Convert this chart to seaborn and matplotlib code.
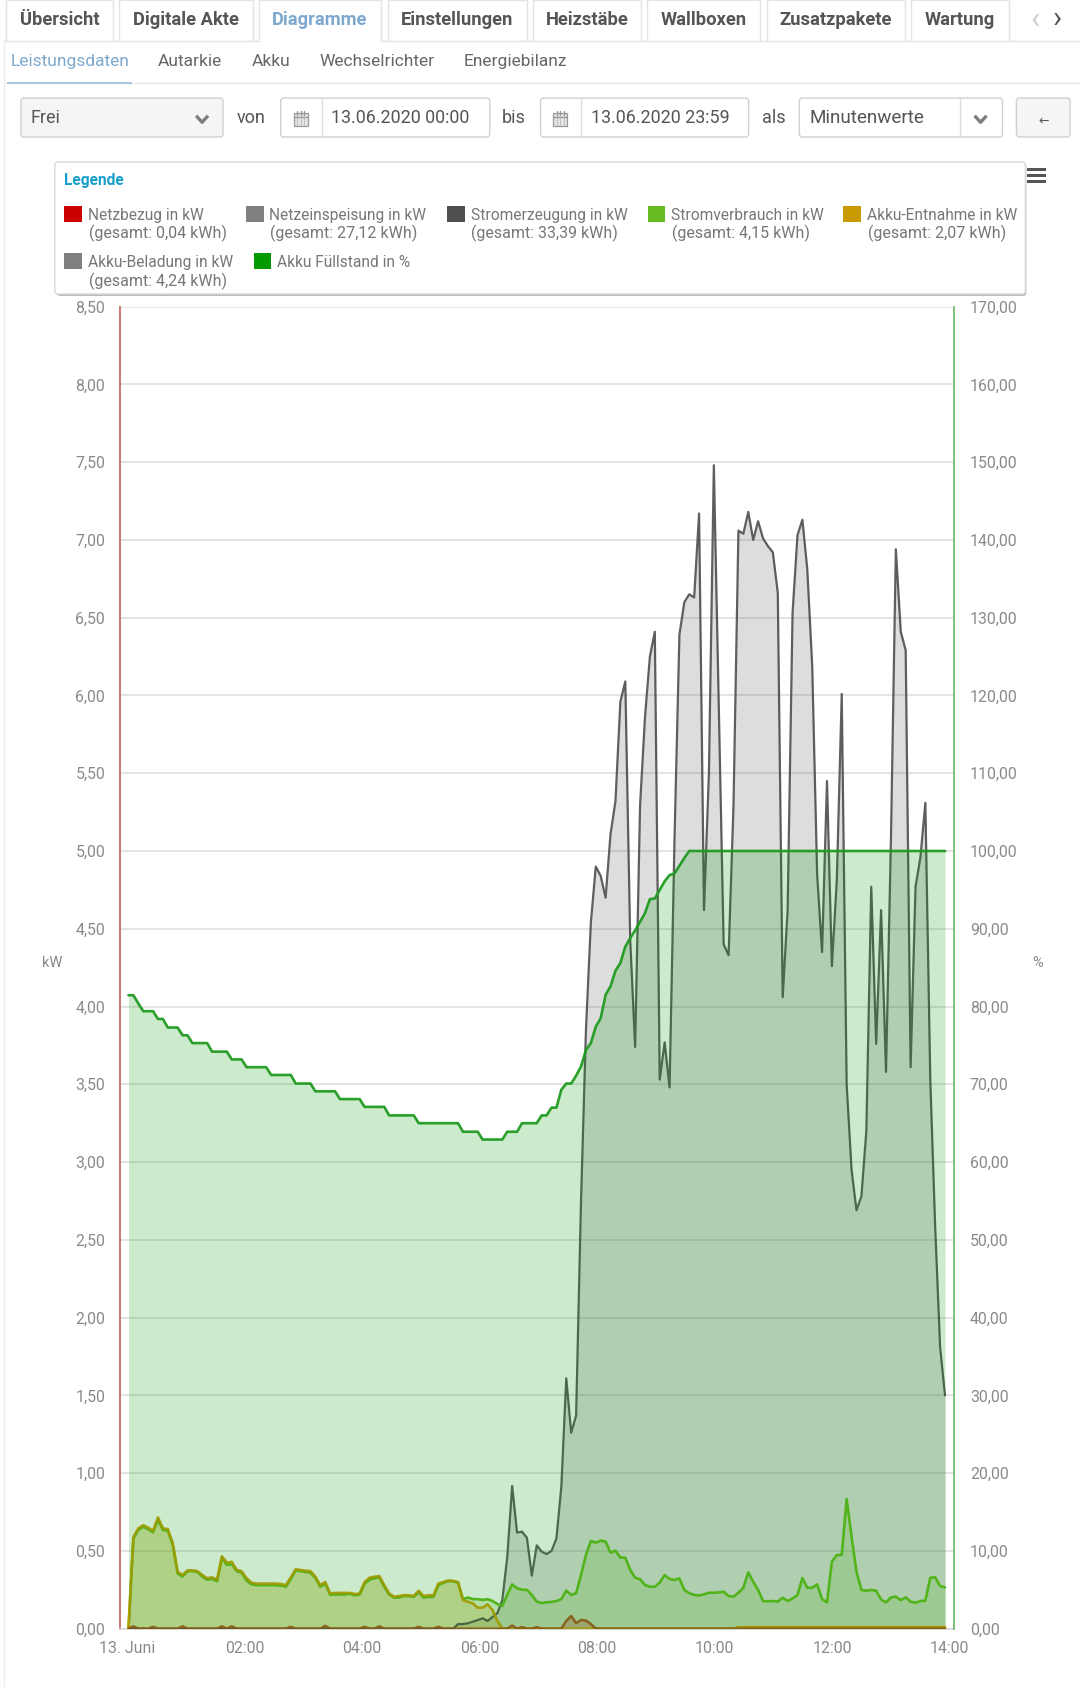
import numpy as np
import pandas as pd
import matplotlib
matplotlib.use("Agg")
import matplotlib.pyplot as plt
from matplotlib.patches import Rectangle, FancyBboxPatch
import seaborn as sns

W, H = 1080, 1687

# ---------- data (5-minute samples) ----------
stromerzeugung = [0.0] * 67 + [
    0.03, 0.03, 0.035, 0.045, 0.055, 0.067, 0.05, 0.075, 0.10, 0.185, 0.46, 0.918, 0.618,
    0.624, 0.585, 0.341, 0.536, 0.495, 0.48, 0.50, 0.58, 0.914, 1.61, 1.26, 1.37, 2.75,
    3.85, 4.54, 4.90, 4.84, 4.70, 5.11, 5.32, 5.96, 6.09, 4.43, 3.74, 5.29, 5.86, 6.25,
    6.41, 3.53, 3.77, 3.48, 5.07, 6.39, 6.60, 6.65, 6.63, 7.17, 4.62, 5.5, 7.48, 5.93,
    4.40, 4.33, 5.3, 7.06, 7.04, 7.18, 7.0, 7.12, 7.01, 6.96, 6.92, 6.66, 4.06, 4.62,
    6.53, 7.03, 7.13, 6.81, 6.19, 4.85, 4.35, 5.45, 4.26, 4.815, 6.01, 3.5, 2.95, 2.69,
    2.78, 3.2, 4.77, 3.76, 4.62, 3.58, 5.07, 6.94, 6.41, 6.29, 3.61, 4.77, 4.96, 5.31,
    3.53, 2.58, 1.81, 1.50]

stromverbrauch = [
    0.0, 0.58, 0.635, 0.655, 0.64, 0.62, 0.70, 0.635, 0.63, 0.54, 0.355, 0.335, 0.37, 0.37,
    0.365, 0.335, 0.315, 0.32, 0.305, 0.455, 0.41, 0.415, 0.37, 0.36, 0.31, 0.285, 0.28,
    0.28, 0.28, 0.28, 0.28, 0.277, 0.27, 0.32, 0.375, 0.37, 0.365, 0.36, 0.325, 0.27, 0.29,
    0.218, 0.22, 0.22, 0.22, 0.225, 0.215, 0.22, 0.29, 0.315, 0.325, 0.33, 0.27, 0.22, 0.2,
    0.2, 0.21, 0.21, 0.205, 0.235, 0.2, 0.205, 0.205, 0.28, 0.295, 0.305, 0.305, 0.295,
    0.19, 0.20, 0.19, 0.19, 0.185, 0.19, 0.178, 0.159, 0.146, 0.217, 0.285, 0.26, 0.251,
    0.249, 0.217, 0.174, 0.165, 0.17, 0.172, 0.178, 0.19, 0.245, 0.217, 0.228, 0.345,
    0.474, 0.564, 0.553, 0.566, 0.56, 0.489, 0.502, 0.457, 0.457, 0.378, 0.328, 0.318,
    0.281, 0.27, 0.27, 0.296, 0.345, 0.32, 0.313, 0.324, 0.249, 0.228, 0.217, 0.213, 0.221,
    0.231, 0.231, 0.233, 0.238, 0.21, 0.206, 0.231, 0.263, 0.362, 0.302, 0.249, 0.178,
    0.176, 0.178, 0.174, 0.199, 0.178, 0.195, 0.216, 0.326, 0.263, 0.263, 0.285, 0.19,
    0.169, 0.431, 0.474, 0.474, 0.834, 0.592, 0.366, 0.249, 0.244, 0.249, 0.244, 0.188,
    0.169, 0.201, 0.206, 0.184, 0.201, 0.174, 0.167, 0.178, 0.18, 0.328, 0.33, 0.274, 0.266]

akku_entnahme = [
    0.0, 0.59, 0.645, 0.665, 0.65, 0.63, 0.715, 0.645, 0.64, 0.55, 0.365, 0.345, 0.375, 0.375,
    0.37, 0.345, 0.325, 0.33, 0.315, 0.465, 0.425, 0.43, 0.378, 0.37, 0.325, 0.296, 0.29,
    0.29, 0.29, 0.29, 0.29, 0.287, 0.28, 0.33, 0.382, 0.377, 0.373, 0.37, 0.334, 0.28, 0.30,
    0.227, 0.23, 0.23, 0.23, 0.23, 0.223, 0.225, 0.30, 0.328, 0.334, 0.338, 0.28, 0.227,
    0.205, 0.21, 0.215, 0.215, 0.21, 0.244, 0.21, 0.215, 0.215, 0.29, 0.30, 0.31, 0.308,
    0.30, 0.184, 0.173, 0.163, 0.135, 0.135, 0.157, 0.12, 0.05, 0.0] + [0.0] * 47 + [0.01] * 43

netzbezug = [0.0] * 167
for _k, _v in zip([1, 5, 11, 19, 21, 33, 40, 48, 51, 59, 63, 78, 80, 83, 89, 90, 91, 92, 93, 94],
                  [0.015, 0.012, 0.015, 0.015, 0.015, 0.012, 0.018, 0.012, 0.015, 0.012, 0.012,
                   0.02, 0.01, 0.01, 0.05, 0.082, 0.035, 0.056, 0.052, 0.03]):
    netzbezug[_k] = _v

akku_fuellstand = (
    [81.45] * 2 + [80.4] + [79.4] * 3 + [78.4] * 2 + [77.3] * 3 + [76.3] * 2 + [75.3] * 4 +
    [74.2] * 4 + [73.2] * 3 + [72.2] * 5 + [71.2] * 5 + [70.1] * 4 + [69.1] * 5 + [68.1] * 5 +
    [67.1] * 5 + [66.0] * 6 + [65.0] * 9 + [63.9] * 4 + [62.9] * 5 + [63.9] * 3 + [65.0] * 4 +
    [66.0] * 2 + [67.0] * 2 +
    [69.3, 70.1, 70.1, 71.1, 72.3, 74.4, 75.3, 77.4, 78.5, 81.5, 82.6, 84.6, 85.6, 87.7, 88.8,
     89.8, 90.9, 92.0, 93.8, 93.9, 95.0, 96.1, 96.9, 97.1, 98.1, 99.1] + [100.0] * 53)

left_ticks = [0, 0.5, 1, 1.5, 2, 2.5, 3, 3.5, 4, 4.5, 5, 5.5, 6, 6.5, 7, 7.5, 8, 8.5]
right_ticks = [0, 10, 20, 30, 40, 50, 60, 70, 80, 90, 100, 110, 120, 130, 140, 150, 160, 170]
x_tick_minutes = [0, 120, 240, 360, 480, 600, 720, 840]
x_tick_labels = ["13. Juni", "02:00", "04:00", "06:00", "08:00", "10:00", "12:00", "14:00"]

tabs = ["Übersicht", "Digitale Akte", "Diagramme", "Einstellungen", "Heizstäbe", "Wallboxen",
        "Zusatzpakete", "Wartung"]
subtabs = ["Leistungsdaten", "Autarkie", "Akku", "Wechselrichter", "Energiebilanz"]
legend_names = ["Netzbezug in kW", "Netzeinspeisung in kW", "Stromerzeugung in kW",
                "Stromverbrauch in kW", "Akku-Entnahme in kW", "Akku-Beladung in kW",
                "Akku Füllstand in %"]
legend_totals = ["(gesamt: 0,04 kWh)", "(gesamt: 27,12 kWh)", "(gesamt: 33,39 kWh)",
                 "(gesamt: 4,15 kWh)", "(gesamt: 2,07 kWh)", "(gesamt: 4,24 kWh)", ""]

minutes = 1.7 + 5.022 * np.arange(167)
df = pd.DataFrame({"t": minutes, "gen": stromerzeugung, "use": stromverbrauch,
                   "dis": akku_entnahme, "grid": netzbezug, "soc": akku_fuellstand})

# ---------- styles ----------
sns.set_theme(style="white")
FONT = ["Roboto", "DejaVu Sans"]
plt.rcParams["font.family"] = FONT
C_GRID, C_GEN, C_USE, C_DIS, C_SOC = "#cc0000", "#555555", "#66bb22", "#c89b00", "#009900"
TICK = "#8a8a8a"

fig = plt.figure(figsize=(W / 100, H / 100), dpi=100, facecolor="white")

# ---------- page chrome in pixel coordinates ----------
ui = fig.add_axes([0, 0, 1, 1], zorder=0)
ui.set_xlim(0, W / 0.9955); ui.set_ylim(H, 0); ui.axis("off")


def box(x0, y0, x1, y1, fc="white", ec="#dcdcdc", lw=1.0, r=3, z=2):
    ui.add_patch(FancyBboxPatch((x0 + r, y0 + r), x1 - x0 - 2 * r, y1 - y0 - 2 * r,
                                boxstyle=f"round,pad={r},rounding_size={r}",
                                fc=fc, ec=ec, lw=lw, zorder=z))


def chevron(cx, cy, s=6, color="#7f7f7f", lw=2.4):
    ui.plot([cx - s, cx, cx + s], [cy - s * .55, cy + s * .55, cy - s * .55], color=color, lw=lw,
            solid_capstyle="butt", zorder=4)


def calendar(cx, cy):
    ui.add_patch(Rectangle((cx - 7, cy - 6), 14, 13, fc="#e4e4e4", ec="#999999", lw=0.9, zorder=4))
    ui.plot([cx - 7, cx + 7], [cy - 2, cy - 2], color="#999999", lw=1.0, zorder=5)
    for dx in (-3.5, 0, 3.5):
        ui.plot([cx + dx, cx + dx], [cy - 8, cy - 4], color="#999999", lw=1.0, zorder=5)
        ui.plot([cx + dx, cx + dx], [cy - 1, cy + 6], color="#c0c0c0", lw=0.7, zorder=5)


tab_x = [(6, 114), (120, 254), (260, 383), (390, 529), (535, 644), (650, 763), (770, 909), (915, 1014)]
for i, (name, (a, b)) in enumerate(zip(tabs, tab_x)):
    ui.plot([a, a, b, b], [40, 0, 0, 40], color="#e4e4e4", lw=1.0, zorder=2)
    ui.text((a + b) / 2, 20, name, ha="center", va="center", fontsize=13.2, fontweight="bold",
            color="#7fa8cf" if i == 2 else "#555555", zorder=5)
ui.plot([4, 260], [40.5, 40.5], color="#e4e4e4", lw=1.0, zorder=2)
ui.plot([383, 1090], [40.5, 40.5], color="#e4e4e4", lw=1.0, zorder=2)
ui.plot([4, 4], [40, H], color="#eeeeee", lw=1.0, zorder=1)
ui.text(1040, 19, "‹", ha="center", va="center", fontsize=22, color="#cfcfcf", zorder=5)
ui.text(1062, 18, "›", ha="center", va="center", fontsize=22, color="#555555", zorder=5)

sub_x = [70.5, 191, 272, 379, 518]
for i, (name, x) in enumerate(zip(subtabs, sub_x)):
    ui.text(x, 61.5, name, ha="center", va="center", fontsize=12.5,
            color="#7fa8cf" if i == 0 else "#666666", zorder=5)
ui.plot([6, 1090], [83, 83], color="#e6e6e6", lw=1.0, zorder=2)
ui.add_patch(Rectangle((7, 81.5), 126, 2.5, fc="#a9c6e2", ec="none", zorder=3))

# select "Frei"
box(21, 98, 224, 137, fc="#f5f5f5", ec="#d0d0d0")
ui.text(31, 118, "Frei", va="center", fontsize=13, color="#555555", zorder=5)
chevron(203, 119)
ui.text(252.5, 118, "von", ha="center", va="center", fontsize=13, color="#555555", zorder=5)
box(282, 98, 492, 137, ec="#d0d0d0")
ui.plot([323, 323], [98, 137], color="#dcdcdc", lw=1.0, zorder=3)
calendar(302, 118.5)
ui.text(402, 118, "13.06.2020 00:00", ha="center", va="center", fontsize=12.9, color="#555555", zorder=5)
ui.text(516, 118, "bis", ha="center", va="center", fontsize=13, color="#555555", zorder=5)
box(543, 98, 752, 137, ec="#d0d0d0")
ui.plot([584, 584], [98, 137], color="#dcdcdc", lw=1.0, zorder=3)
calendar(563, 118.5)
ui.text(663, 118, "13.06.2020 23:59", ha="center", va="center", fontsize=12.9, color="#555555", zorder=5)
ui.text(777, 118, "als", ha="center", va="center", fontsize=13, color="#555555", zorder=5)
box(803, 98, 1007, 137, ec="#d0d0d0")
ui.plot([964, 964], [98, 137], color="#dcdcdc", lw=1.0, zorder=3)
ui.text(813, 118, "Minutenwerte", va="center", fontsize=13.6, color="#555555", zorder=5)
chevron(985, 119)
box(1021, 98, 1075, 137, fc="#f5f5f5", ec="#d0d0d0")
ui.text(1048, 121, "←", ha="center", va="center", fontsize=9, color="#555555", zorder=5,
        family=["DejaVu Sans"])

# legend box
box(57, 164, 1031, 296, fc="#bdbdbd", ec="none", r=3, z=1)
box(55, 162, 1030, 294, fc="white", ec="#d8d8d8", r=3, z=2)
ui.text(64, 180, "Legende", va="center", fontsize=11.2, fontweight="bold", color="#1aa0cc", zorder=5)
swatch_colors = [C_GRID, "#808080", "#505050", C_USE, C_DIS, "#808080", C_SOC]
swatch_x = [64, 247, 449, 650.5, 847, 64, 254.7]
name_x = [88, 270.6, 472.7, 674, 870.6, 88, 278]
total_x = [158.5, 345.7, 547.4, 744, 941, 158.5, None]
row_y = [(205.5, 215, 233), (205.5, 215, 233), (205.5, 215, 233), (205.5, 215, 233), (205.5, 215, 233),
         (253, 262, 281), (253, 262, 281)]
for n, t, c, sx, nx, tx, (ys, yn, yt) in zip(legend_names, legend_totals, swatch_colors, swatch_x,
                                             name_x, total_x, row_y):
    ui.add_patch(Rectangle((sx, ys), 18, 16, fc=c, ec="none", zorder=5))
    ui.text(nx, yn, n, va="center", fontsize=11.2, color="#777777", zorder=5)
    if t:
        ui.text(tx, yt, t, ha="center", va="center", fontsize=11.5, color="#777777", zorder=5)
for yb in (168, 174, 180):
    ui.add_patch(Rectangle((1032, yb), 19, 3.4, fc="#555555", ec="none", zorder=5))

# ---------- chart ----------
L, R, T, B = 119.5, 954.0, 306.6, 1628.7
ax = fig.add_axes([L / W, 1 - B / H, (R - L) / W, (B - T) / H], zorder=2)
ax.patch.set_alpha(0)
ax2 = ax.twinx()
ax2.patch.set_alpha(0)
XMIN, XMAX = -7.45, 844.5

ax.fill_between(df["t"], 0, df["gen"], color=C_GEN, alpha=0.2, lw=0, zorder=2)
ax.fill_between(df["t"], 0, df["use"], color=C_USE, alpha=0.2, lw=0, zorder=2)
ax.fill_between(df["t"], 0, df["dis"], color=C_DIS, alpha=0.2, lw=0, zorder=2)
ax.fill_between(df["t"], 0, df["grid"], color=C_GRID, alpha=0.2, lw=0, zorder=2)
sns.lineplot(data=df, x="t", y="gen", ax=ax, color="#444444", alpha=0.85, lw=1.6, zorder=4)
sns.lineplot(data=df, x="t", y="use", ax=ax, color=C_USE, lw=1.9, zorder=4)
sns.lineplot(data=df, x="t", y="dis", ax=ax, color=C_DIS, alpha=0.9, lw=1.9, zorder=5)
sns.lineplot(data=df, x="t", y="grid", ax=ax, color="#a8450f", alpha=0.85, lw=1.9, zorder=5)

ax2.fill_between(df["t"], 0, df["soc"], color=C_SOC, alpha=0.2, lw=0, zorder=2)
sns.lineplot(data=df, x="t", y="soc", ax=ax2, color="#1f9a1f", alpha=0.95, lw=1.9, zorder=4)

ax.set_xlim(XMIN, XMAX)
ax.set_ylim(0, 8.5)
ax2.set_ylim(0, 170)
ax.set_xticks(x_tick_minutes)
ax.set_xticklabels(x_tick_labels)
ax.set_yticks(left_ticks)
ax.set_yticklabels([f"{v:.2f}".replace(".", ",") for v in left_ticks])
ax2.set_yticks(right_ticks)
ax2.set_yticklabels([f"{v:.2f}".replace(".", ",") for v in right_ticks])
ax.set_xlabel(""); ax.set_ylabel(""); ax2.set_ylabel("")
ax.grid(axis="y", color="#e4e4e4", lw=1.4, zorder=1)
ax.set_axisbelow(True)
ax.tick_params(axis="x", length=0, pad=9, labelsize=11.4, labelcolor=TICK)
ax.tick_params(axis="y", length=0, pad=10.3, labelsize=11.4, labelcolor=TICK)
ax2.tick_params(axis="y", length=0, pad=11.4, labelsize=11.4, labelcolor=TICK)
for a in (ax, ax2):
    for s in ("top", "left", "right", "bottom"):
        a.spines[s].set_visible(False)
ax.spines["left"].set_visible(True)
ax.spines["left"].set_color("#c66a6a"); ax.spines["left"].set_linewidth(1.3)
ax.spines["bottom"].set_visible(True)
ax.spines["bottom"].set_color("#d9d9d9"); ax.spines["bottom"].set_linewidth(1.2)
ax2.spines["right"].set_visible(True)
ax2.spines["right"].set_color("#6fbf6f"); ax2.spines["right"].set_linewidth(1.3)

ui.text(52.5, 963, "kW", ha="center", va="center", fontsize=10.5, color=TICK, zorder=5)
ui.text(1042, 963, "%", ha="center", va="center", fontsize=10.5, color=TICK, zorder=5)

fig.savefig("out.png", dpi=100, facecolor="white")
